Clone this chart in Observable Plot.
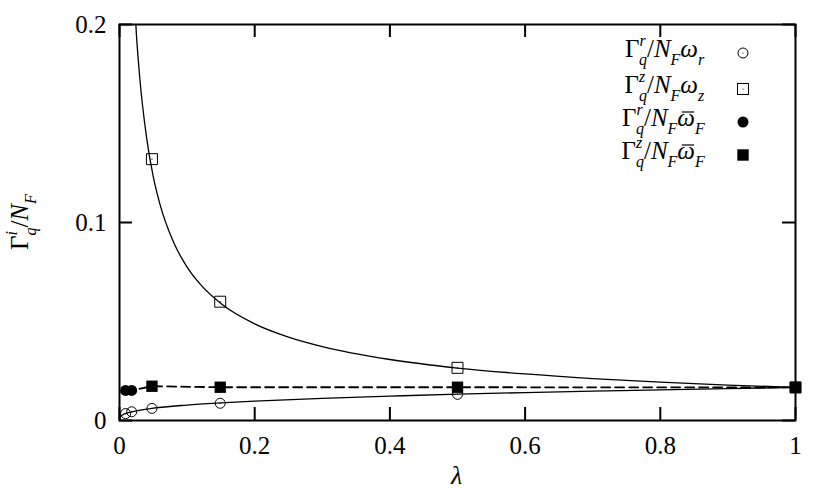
<!DOCTYPE html>
<html>
<head>
<meta charset="utf-8">
<script src="https://cdn.jsdelivr.net/npm/d3@7"></script>
<script src="https://cdn.jsdelivr.net/npm/@observablehq/plot@0.6"></script>
<style>
  html, body { margin: 0; padding: 0; background: #fff; }
  #chart svg { display: block; }
  #chart svg, #chart svg text { font-family: "Liberation Serif", "Times New Roman", Tinos, serif !important; }
</style>
</head>
<body>
<div id="chart"></div>
<script>
// ---- data ----
const xTicks = [0, 0.2, 0.4, 0.6, 0.8, 1];
const yTicks = [0, 0.1, 0.2];

// solid curve through the Γ^z/N_F ω_z points
const curveZLambda = [0.02, 0.025, 0.03, 0.04, 0.05, 0.06, 0.08, 0.10, 0.12, 0.15, 0.2, 0.25, 0.3, 0.4, 0.5, 0.6, 0.7, 0.8, 0.9, 1.0];
const curveZValue  = [0.226, 0.195, 0.173, 0.143, 0.123, 0.109, 0.090, 0.0775, 0.0686, 0.0591, 0.0488, 0.0421, 0.0373, 0.0308, 0.0265, 0.0235, 0.0212, 0.0194, 0.0179, 0.0167];

// solid curve through the Γ^r/N_F ω_r points
const curveRLambda = [0, 0.001, 0.002, 0.005, 0.01, 0.02, 0.05, 0.1, 0.15, 0.2, 0.3, 0.4, 0.5, 0.6, 0.7, 0.8, 0.9, 1.0];
const curveRValue  = [0, 0.0017, 0.0021, 0.0029, 0.0036, 0.0045, 0.0062, 0.0078, 0.0089, 0.0098, 0.0112, 0.0123, 0.0133, 0.0141, 0.0148, 0.0155, 0.0161, 0.0167];

// markers
const openCircleLambda = [0.009, 0.018, 0.048, 0.149, 0.5, 1.0];
const openCircleValue  = [0.0035, 0.0044, 0.0061, 0.0087, 0.0132, 0.0167];

const openSquareLambda = [0.048, 0.149, 0.5, 1.0];
const openSquareValue  = [0.132, 0.060, 0.0266, 0.0167];

const filledCircleLambda = [0.009, 0.018];
const filledCircleValue  = [0.0152, 0.0152];

const filledSquareLambda = [0.048, 0.149, 0.5, 1.0];
const filledSquareValue  = [0.0173, 0.0168, 0.0168, 0.0167];

// ---- build tables ----
const zip = (xs, ys) => xs.map((x, i) => ({x, y: ys[i]}));
const curveZ = zip(curveZLambda, curveZValue);
const curveR = zip(curveRLambda, curveRValue);
const openC = zip(openCircleLambda, openCircleValue);
const openS = zip(openSquareLambda, openSquareValue);
const fillC = zip(filledCircleLambda, filledCircleValue);
const fillS = zip(filledSquareLambda, filledSquareValue);
const dashed = fillC.concat(fillS);

const W = 830, H = 492;
const mL = 119, mR = 35, mT = 24, mB = 72;
const frameH = H - mT - mB, frameW = W - mL - mR;
const tickLen = 13;
const FONT = "'Liberation Serif', 'Times New Roman', Tinos, serif";

const plot = Plot.plot({
  width: W,
  height: H,
  marginLeft: mL,
  marginRight: mR,
  marginTop: mT,
  marginBottom: mB,
  style: {fontFamily: FONT, fontSize: "24px", background: "#fff", color: "#000"},
  x: {domain: [0, 1], ticks: xTicks, tickFormat: d => String(d)},
  y: {domain: [0, 0.2], ticks: yTicks, tickFormat: d => String(d)},
  marks: [
    Plot.axisX({ticks: xTicks, tickSize: 0, tickPadding: 16, label: null, fontSize: 25, tickFormat: d => String(d)}),
    Plot.axisY({ticks: yTicks, tickSize: 0, tickPadding: 13, label: null, fontSize: 25, tickFormat: d => String(d)}),
    // inward ticks on all four sides
    Plot.tickX(xTicks, {x: d => d, insetTop: frameH - tickLen, strokeWidth: 2}),
    Plot.tickX(xTicks, {x: d => d, insetBottom: frameH - tickLen, strokeWidth: 2}),
    Plot.tickY(yTicks, {y: d => d, insetRight: frameW - tickLen, strokeWidth: 2}),
    Plot.tickY(yTicks, {y: d => d, insetLeft: frameW - tickLen, strokeWidth: 2}),
    // curves
    Plot.line(curveZ, {x: "x", y: "y", curve: "monotone-x", stroke: "#000", strokeWidth: 1.3, clip: true}),
    Plot.line(curveR, {x: "x", y: "y", curve: "monotone-x", stroke: "#000", strokeWidth: 1.3, clip: true}),
    Plot.line(dashed, {x: "x", y: "y", stroke: "#000", strokeWidth: 1.8, strokeDasharray: "9,5"}),
    // markers
    Plot.dot(openC, {x: "x", y: "y", r: 5, symbol: "circle", stroke: "#000", fill: "none", strokeWidth: 1}),
    Plot.dot(openC, {x: "x", y: "y", r: 0.6, fill: "#000", stroke: "none"}),
    Plot.dot(openS, {x: "x", y: "y", r: 6.2, symbol: "square", stroke: "#000", fill: "none", strokeWidth: 1}),
    Plot.dot(openS, {x: "x", y: "y", r: 0.6, fill: "#000", stroke: "none"}),
    Plot.dot(fillC, {x: "x", y: "y", r: 5.5, symbol: "circle", fill: "#000", stroke: "none"}),
    Plot.dot(fillS, {x: "x", y: "y", r: 6.4, symbol: "square", fill: "#000", stroke: "none"}),
    Plot.frame({stroke: "#000", strokeWidth: 2})
  ]
});

document.getElementById("chart").appendChild(plot);

// ---- math-like text helpers ----
const svg = d3.select(plot);
function mathText(x, y, parts, anchor, size, rotate) {
  const g = svg.append("g");
  if (rotate) g.attr("transform", `translate(${x},${y}) rotate(${rotate})`);
  else g.attr("transform", `translate(${x},${y})`);
  const t = g.append("text")
    .attr("text-anchor", "start")
    .attr("font-family", FONT)
    .attr("font-size", size)
    .attr("fill", "#000");
  let cur = 0, lastScriptW = 0, lastWasSup = false;
  const bars = [];
  for (const p of parts) {
    const off = p.s === "sup" ? -0.45 * size : p.s === "sub" ? 0.32 * size : 0;
    const ts = t.append("tspan").text(p.t).attr("dy", off - cur);
    cur = off;
    if (p.s) ts.attr("font-size", 0.64 * size);
    if (p.i) ts.attr("font-style", "italic");
    if (p.s === "sub" && lastWasSup) ts.attr("dx", -lastScriptW);
    lastWasSup = p.s === "sup";
    lastScriptW = ts.node().getComputedTextLength();
    if (p.bar) bars.push(ts.node());
  }
  // overbars (accent) drawn above the chosen glyphs
  const tb = t.node().getBBox();
  for (const node of bars) {
    const start = node.getStartPositionOfChar(0);
    const len = node.getComputedTextLength();
    g.append("line")
      .attr("x1", start.x + 0.25 * len).attr("x2", start.x + len * 0.95)
      .attr("y1", start.y - 0.56 * size).attr("y2", start.y - 0.56 * size)
      .attr("stroke", "#000").attr("stroke-width", 1.2);
  }
  const shift = anchor === "end" ? -tb.width : anchor === "middle" ? -tb.width / 2 : 0;
  t.attr("x", shift);
  g.selectAll("line").attr("transform", `translate(${shift},0)`);
  return g;
}
const S = 25;
const G = (sup) => [{t: "Γ"}, {t: sup, s: "sup", i: true}, {t: "q", s: "sub", i: true}];
const NF = [{t: "/"}, {t: "N", i: true}, {t: "F", s: "sub", i: true}];

const legendRows = [
  {parts: [...G("r"), ...NF, {t: "ω", i: true}, {t: "r", s: "sub", i: true}], sym: "oc"},
  {parts: [...G("z"), ...NF, {t: "ω", i: true}, {t: "z", s: "sub", i: true}], sym: "os"},
  {parts: [...G("r"), ...NF, {t: "ω", i: true, bar: true}, {t: "F", s: "sub", i: true}], sym: "fc"},
  {parts: [...G("z"), ...NF, {t: "ω", i: true, bar: true}, {t: "F", s: "sub", i: true}], sym: "fs"}
];
const legX = 705, symX = 743;
const legendY = [53, 89, 122, 155];
legendRows.forEach((row, i) => {
  const yc = legendY[i];
  mathText(legX, yc + 4, row.parts, "end", S);
  if (row.sym === "oc") {
    svg.append("circle").attr("cx", symX).attr("cy", yc).attr("r", 5).attr("fill", "none").attr("stroke", "#000");
    svg.append("circle").attr("cx", symX).attr("cy", yc).attr("r", 0.6).attr("fill", "#000");
  } else if (row.sym === "os") {
    svg.append("rect").attr("x", symX - 5.5).attr("y", yc - 5.5).attr("width", 11).attr("height", 11).attr("fill", "none").attr("stroke", "#000");
    svg.append("circle").attr("cx", symX).attr("cy", yc).attr("r", 0.6).attr("fill", "#000");
  } else if (row.sym === "fc") {
    svg.append("circle").attr("cx", symX).attr("cy", yc).attr("r", 5.5).attr("fill", "#000");
  } else {
    svg.append("rect").attr("x", symX - 5.7).attr("y", yc - 5.7).attr("width", 11.4).attr("height", 11.4).attr("fill", "#000");
  }
});

// axis titles
mathText(457, 484, [{t: "λ", i: true}], "middle", 26);
mathText(28, 222, [{t: "Γ"}, {t: "i", s: "sup", i: true}, {t: "q", s: "sub", i: true}, {t: "/"}, {t: "N", i: true}, {t: "F", s: "sub", i: true}], "middle", 25, -90);
</script>
</body>
</html>
